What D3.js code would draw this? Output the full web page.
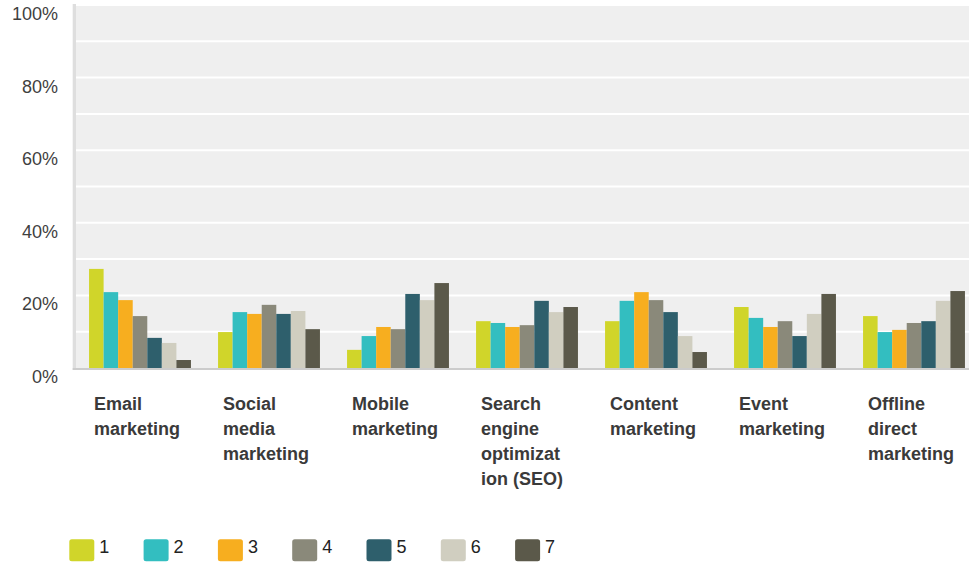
<!DOCTYPE html>
<html>
<head>
<meta charset="utf-8">
<script src="https://cdn.jsdelivr.net/npm/d3@7"></script>
<style>
  html, body { margin: 0; padding: 0; background: #fff; }
  svg { display: block; font-family: "Liberation Sans", Arial, sans-serif; }
</style>
</head>
<body>
<svg id="chart" width="969" height="564"></svg>
<script>
// Marketing channels (x categories) and their wrapped label lines
const categories = [
  "Email marketing",
  "Social media marketing",
  "Mobile marketing",
  "Search engine optimization (SEO)",
  "Content marketing",
  "Event marketing",
  "Offline direct marketing"
];
const categoryLines = [
  ["Email", "marketing"],
  ["Social", "media", "marketing"],
  ["Mobile", "marketing"],
  ["Search", "engine", "optimizat", "ion (SEO)"],
  ["Content", "marketing"],
  ["Event", "marketing"],
  ["Offline", "direct", "marketing"]
];

// Rank series 1..7
const seriesNames = ["1", "2", "3", "4", "5", "6", "7"];
const seriesColors = ["#d0d52a", "#33bec0", "#f7ae1f", "#8a897a", "#2e5f6c", "#d0cec0", "#5b594a"];

// Share of respondents (%) for each channel, one array per rank
const rank1 = [27.3, 9.9, 5.0, 12.9, 12.9, 16.8, 14.3];
const rank2 = [20.9, 15.4, 8.8, 12.4, 18.5, 13.8, 9.9];
const rank3 = [18.7, 14.9, 11.3, 11.3, 20.9, 11.3, 10.5];
const rank4 = [14.3, 17.4, 10.7, 11.8, 18.7, 12.9, 12.4];
const rank5 = [8.3, 14.9, 20.4, 18.5, 15.4, 8.8, 12.9];
const rank6 = [6.9, 15.7, 18.7, 15.4, 8.8, 14.9, 18.5];
const rank7 = [2.2, 10.7, 23.4, 16.8, 4.4, 20.4, 21.2];
const seriesValues = [rank1, rank2, rank3, rank4, rank5, rank6, rank7];

// Y axis labels
const yTickValues = [0, 20, 40, 60, 80, 100];
const yGridValues = [0, 10, 20, 30, 40, 50, 60, 70, 80, 90, 100];

const svg = d3.select("#chart");

const plotLeft = 76, plotRight = 969, plotTop = 4, plotBottom = 368;

const y = d3.scaleLinear().domain([0, 100]).range([plotBottom, 5]);
const x0 = d3.scaleBand().domain(categories).range([75.5, 978.5])
  .paddingInner(0.21).paddingOuter(0.105);
const x1 = d3.scaleBand().domain(seriesNames).range([0, x0.bandwidth()]);

// Plot background
svg.append("rect")
  .attr("x", plotLeft).attr("y", plotTop)
  .attr("width", plotRight - plotLeft).attr("height", plotBottom - plotTop)
  .attr("fill", "#efefef");

// Horizontal gridlines
svg.append("g").selectAll("line")
  .data(yGridValues.filter(v => v > 0))
  .join("line")
  .attr("x1", plotLeft).attr("x2", plotRight)
  .attr("y1", d => y(d)).attr("y2", d => y(d))
  .attr("stroke", "#ffffff").attr("stroke-width", 2);

// Left axis strip
svg.append("rect")
  .attr("x", 72.7).attr("y", plotTop)
  .attr("width", 3.3).attr("height", plotBottom - plotTop + 2)
  .attr("fill", "#dedede");

// Y tick labels
svg.append("g").selectAll("text")
  .data(yTickValues)
  .join("text")
  .attr("x", 58).attr("y", d => y(d) + 15)
  .attr("text-anchor", "end")
  .attr("font-size", 18)
  .attr("fill", "#3f3f3f")
  .text(d => d + "%");

// Bars
const groups = svg.append("g").selectAll("g")
  .data(categories)
  .join("g")
  .attr("transform", d => `translate(${x0(d)},0)`);

groups.selectAll("rect")
  .data((d, i) => seriesNames.map((s, j) => ({ s, j, v: seriesValues[j][i] })))
  .join("rect")
  .attr("x", d => x1(d.s))
  .attr("width", x1.bandwidth())
  .attr("y", d => y(d.v))
  .attr("height", d => y(0) - y(d.v))
  .attr("fill", d => seriesColors[d.j]);

// Baseline
svg.append("rect")
  .attr("x", 72.7).attr("y", plotBottom)
  .attr("width", plotRight - 72.7).attr("height", 2)
  .attr("fill", "#cccccc");

// Category labels
const labels = svg.append("g").selectAll("text")
  .data(categories)
  .join("text")
  .attr("x", d => x0(d) - x0.step() * 0.105 + 18.5)
  .attr("y", 410)
  .attr("font-size", 18)
  .attr("font-weight", "bold")
  .attr("fill", "#3a3a3a");

labels.each(function(d, i) {
  const t = d3.select(this);
  const x = t.attr("x");
  categoryLines[i].forEach((line, k) => {
    t.append("tspan").attr("x", x).attr("y", 410 + k * 25).text(line);
  });
});

// Legend
const legend = svg.append("g").selectAll("g")
  .data(seriesNames)
  .join("g")
  .attr("transform", (d, i) => `translate(${69.3 + i * 74.3},539.3)`);

legend.append("rect")
  .attr("width", 25).attr("height", 22)
  .attr("rx", 2.5).attr("ry", 2.5)
  .attr("fill", (d, i) => seriesColors[i]);

legend.append("text")
  .attr("x", 30).attr("y", 13.5)
  .attr("font-size", 18)
  .attr("fill", "#222")
  .text(d => d);
</script>
</body>
</html>
